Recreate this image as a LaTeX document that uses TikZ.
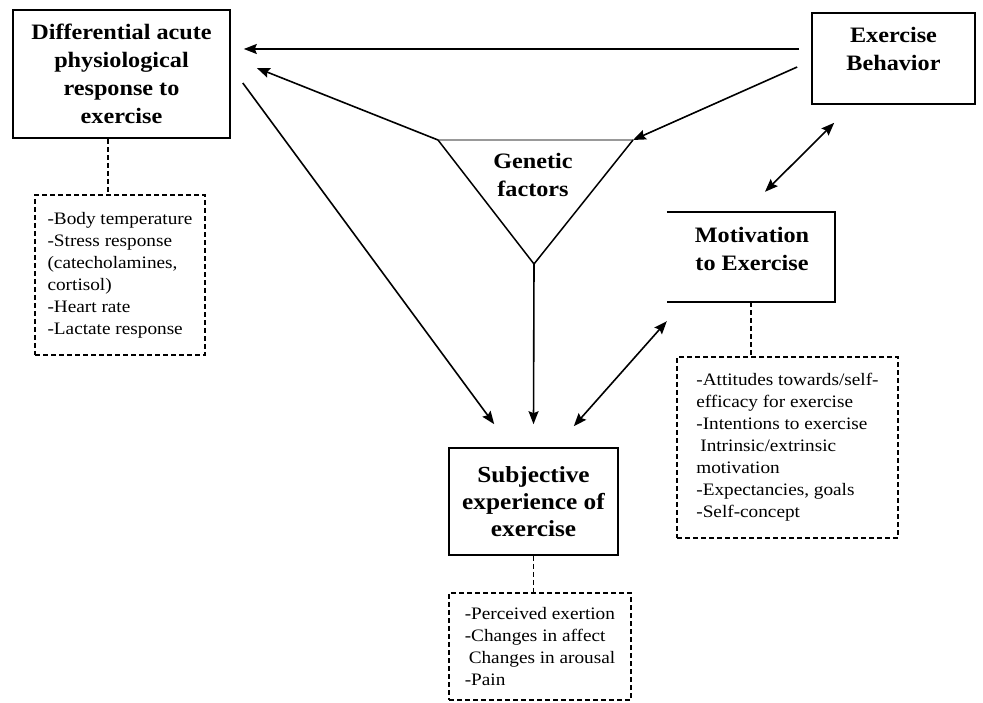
\documentclass[tikz,border=0pt]{standalone}
\usepackage{fontspec}
\setmainfont{Liberation Serif}[FakeStretch=1.1]
\usetikzlibrary{arrows.meta,calc}
\begin{document}
\begin{tikzpicture}[x=1pt,y=1pt,
  box/.style={draw, line width=1.6pt, inner sep=0pt, align=center, font=\fontsize{22}{28}\selectfont\bfseries},
  ttl/.style={inner sep=0pt, align=center, font=\fontsize{22}{28}\selectfont\bfseries},
  dbox/.style={draw, dash pattern=on 5pt off 3pt, line width=1.4pt, inner sep=0pt, align=left, font=\fontsize{17.5}{22}\selectfont},
  arr/.style={line width=1.6pt, -{Stealth[length=13pt,width=10pt,inset=2pt]}},
  darr/.style={line width=1.6pt, {Stealth[length=13pt,width=10pt,inset=2pt]}-{Stealth[length=13pt,width=10pt,inset=2pt]}},
  dline/.style={dash pattern=on 5pt off 3pt, line width=1.4pt}
]
\useasboundingbox (0,0) rectangle (983,702);

% main boxes
\node[box, minimum width=217, minimum height=128] (diff) at (121.5,628) {Differential acute\\physiological\\response to\\exercise};

\node[draw, line width=1.6pt, inner sep=0pt, minimum width=163, minimum height=91] (eb) at (893.5,643.5) {};
\node[ttl] (ebt) at (893.5,653) {Exercise\\Behavior};

\node[inner sep=0pt, minimum width=168, minimum height=90] (motbox) at (751,445) {};
\draw[line width=1.6pt] (motbox.north west) -- (motbox.north east) -- (motbox.south east) -- (motbox.south west);
\node[ttl] (mot) at (752,453) {Motivation\\to Exercise};

\node[box, minimum width=169, minimum height=107, font=\fontsize{23}{27}\selectfont\bfseries] (subj) at (533.5,200.5) {Subjective\\experience of\\exercise};

% genetic triangle
\coordinate (L) at (438,562);
\coordinate (R) at (633,562);
\coordinate (A) at (534,438);
\draw[line width=2.4pt, black!40] (L) -- (R);
\draw[line width=1.5pt] (L) -- (A) -- (R);
\node[ttl] (gen) at (533,527) {Genetic\\factors};

% dashed detail boxes
\node[dbox, minimum width=170, minimum height=160] (dd) at (120,427) {-Body temperature\\-Stress response\\(catecholamines,\\cortisol)\\-Heart rate\\-Lactate response};
\node[dbox, minimum width=221, minimum height=181] (md) at (787.5,254.5) {-Attitudes towards/self-\\efficacy for exercise\\-Intentions to exercise\\\hspace*{4pt}Intrinsic/extrinsic\\motivation\\-Expectancies, goals\\-Self-concept};
\node[dbox, minimum width=182, minimum height=107] (sd) at (540,55.5) {-Perceived exertion\\-Changes in affect\\\hspace*{4pt}Changes in arousal\\-Pain};

% dashed connectors
\coordinate (dtop) at ($(diff.south)+(-13.5,0)$);
\draw[dline] (dtop) -- (dtop |- dd.north);
\draw[dline] (motbox.south) -- (motbox.south |- md.north);
\draw[dline] (subj.south) -- (subj.south |- sd.north);

% arrows
\draw[arr] ($(eb.west)+(-12,9.5)$) -- ($(diff.east)+(13,25)$);
\draw[arr] ($(eb.west)+(-14,-8.5)$) -- (R);
\draw[arr] (L) -- ($(diff.east)+(26,6)$);
\draw[arr] ($(diff.east)+(12,-9)$) -- ($(subj.north west)+(46,23)$);
\draw[arr] (A) -- ($(subj.north)+(0,23)$);
\draw[darr] ($(subj.north east)+(-45,21)$) -- ($(motbox.south west)+(0,-19)$);
\draw[darr] ($(motbox.north)+(14,20)$) -- ($(eb.south west)+(23,-18)$);
\end{tikzpicture}
\end{document}
